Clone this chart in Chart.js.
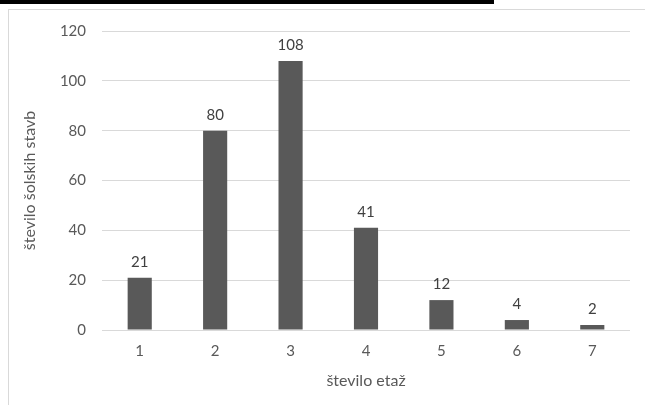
<!DOCTYPE html>
<html>
<head>
<meta charset="utf-8">
<script src="https://cdn.jsdelivr.net/npm/chart.js@4/dist/chart.umd.min.js"></script>
<style>
  html, body { margin: 0; padding: 0; background: #fff; }
  body { width: 645px; height: 405px; position: relative; overflow: hidden; }
  #topbar { position: absolute; left: 0; top: 0; width: 494px; height: 4px; background: #000; }
  #frame { position: absolute; left: 8px; top: 9px; width: 640px; height: 420px; border: 1px solid #d9d9d9; box-sizing: border-box; }
  #wrap { position: absolute; left: 0; top: 0; width: 645px; height: 405px; }
</style>
</head>
<body>
<div id="frame"></div>
<div id="topbar"></div>
<div id="wrap"><canvas id="c" width="645" height="405"></canvas></div>
<script>
const categories = ['1', '2', '3', '4', '5', '6', '7'];
const buildings = [21, 80, 108, 41, 12, 4, 2];
const yTicks = [0, 20, 40, 60, 80, 100, 120];

const FONT = 'Lato, "Open Sans", sans-serif';

// writes each bar's value just above it
const valueLabels = {
  id: 'valueLabels',
  afterDatasetsDraw(chart) {
    const ctx = chart.ctx;
    const meta = chart.getDatasetMeta(0);
    ctx.save();
    ctx.font = '15px ' + FONT;
    ctx.fillStyle = '#404040';
    ctx.textAlign = 'center';
    ctx.textBaseline = 'bottom';
    meta.data.forEach((bar, i) => {
      ctx.fillText(String(chart.data.datasets[0].data[i]), bar.x, bar.y - 8);
    });
    ctx.restore();
  }
};

new Chart(document.getElementById('c'), {
  type: 'bar',
  data: {
    labels: categories,
    datasets: [{
      data: buildings,
      backgroundColor: '#595959',
      borderWidth: 0,
      barPercentage: 0.64,
      categoryPercentage: 0.5
    }]
  },
  options: {
    responsive: false,
    animation: false,
    devicePixelRatio: 1,
    layout: { padding: { left: 20, right: 15, top: 31, bottom: 11 } },
    plugins: { legend: { display: false }, tooltip: { enabled: false } },
    scales: {
      x: {
        grid: { display: false, drawTicks: false },
        border: { display: false },
        ticks: { color: '#595959', font: { family: FONT, size: 15 }, padding: 12 },
        title: { display: true, text: 'število etaž', color: '#595959', font: { family: FONT, size: 16 }, padding: { top: 4 } },
        afterFit(s) { s.height = 64; }
      },
      y: {
        min: 0, max: 120,
        afterBuildTicks(s) { s.ticks = yTicks.map(v => ({ value: v })); },
        grid: { color: '#d9d9d9', drawTicks: false, lineWidth: 1 },
        border: { display: false },
        ticks: { color: '#595959', font: { family: FONT, size: 15 }, padding: 16 },
        title: { display: true, text: 'število šolskih stavb', color: '#595959', font: { family: FONT, size: 16 }, padding: 0 },
        afterFit(s) { s.width = 82; }
      }
    }
  },
  plugins: [valueLabels]
});
</script>
</body>
</html>
